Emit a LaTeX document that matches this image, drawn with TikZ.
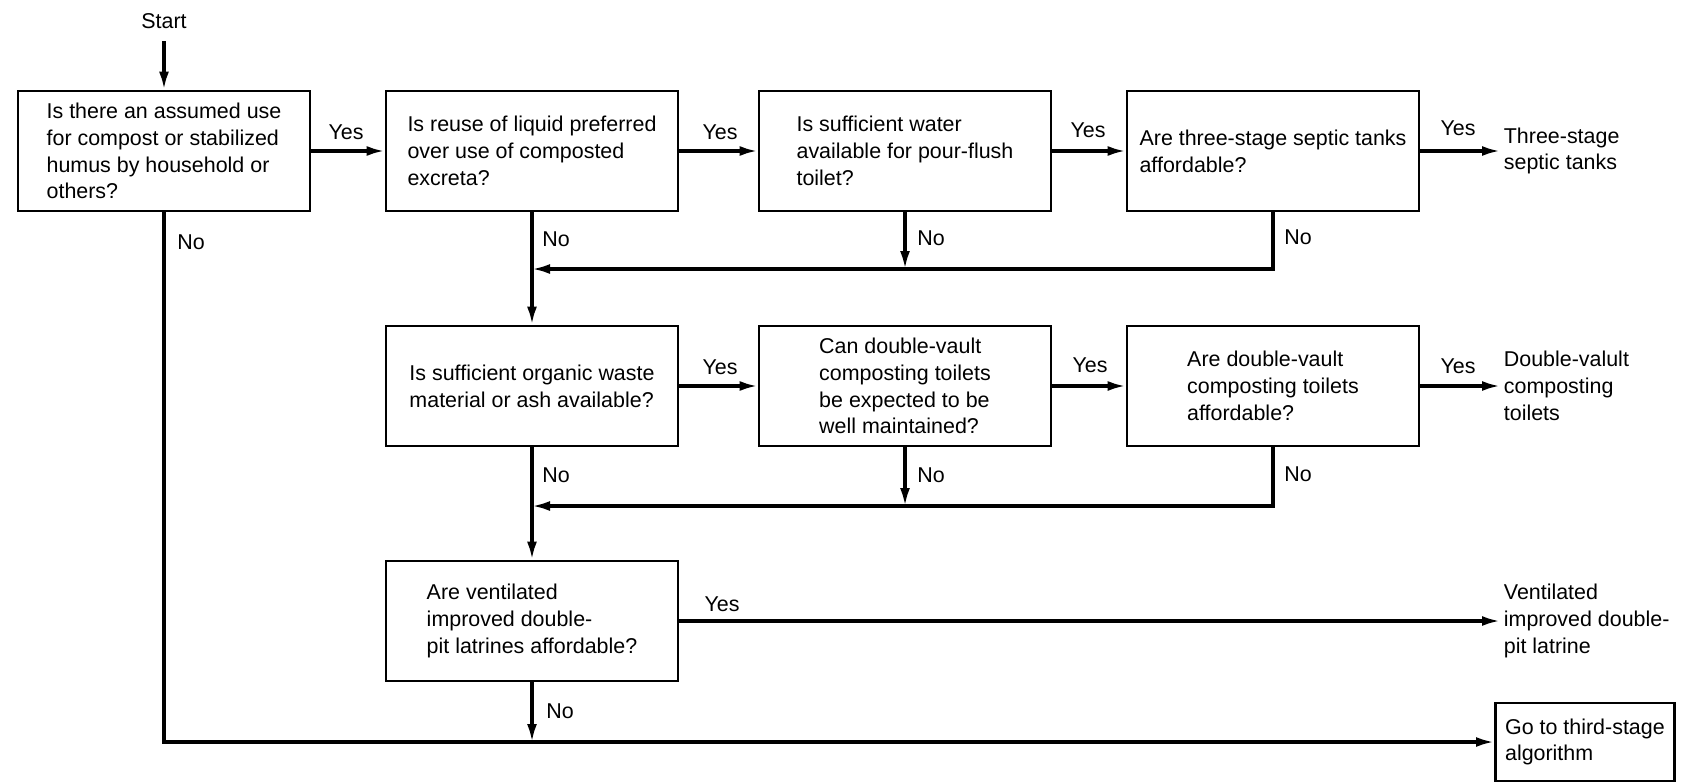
\documentclass[tikz,border=0pt]{standalone}
\usepackage{fontspec}
\setmainfont{Liberation Sans}
\usetikzlibrary{arrows.meta}
\newcommand{\boxfont}{\fontsize{12.2}{15.3}\selectfont}

\begin{document}
\begin{tikzpicture}[x=0.02cm,y=-0.02cm, % second-stage latrine choice
        qbox/.style={draw,line width=1.6pt,minimum width=5.84cm,minimum height=2.4cm,align=left,font=\boxfont},
        endbox/.style={draw,line width=1.6pt,minimum width=3.58cm,minimum height=1.56cm,align=left,font=\boxfont,anchor=west},
        result/.style={anchor=west,align=left,font=\boxfont,inner sep=2pt},
        tag/.style={font=\boxfont,inner sep=1pt},
        flow/.style={line width=1.8pt,-{Latex[length=3.6mm,width=2mm]}}]
        \useasboundingbox (0,0) rectangle (1682,781);
        \node[tag] (start) at (164,21) {Start};
        % first row
        \node[qbox] (q1) at (164,151) {Is there an assumed use\\for compost or stabilized\\humus by household or\\others?};
        \node[qbox] (q2) at (532,151) {Is reuse of liquid preferred\\over use of composted\\excreta?};
        \node[qbox] (q3) at (905,151) {Is sufficient water\\available for pour-flush\\toilet?};
        \node[qbox] (q4) at (1273,151) {Are three-stage septic tanks\\affordable?};
        \node[result] (r1) at (1500,151) {Three-stage\\septic tanks};
        % second row
        \node[qbox] (q5) at (532,386) {Is sufficient organic waste\\material or ash available?};
        \node[qbox] (q6) at (905,386) {Can double-vault\\composting toilets\\be expected to be\\well maintained?};
        \node[qbox] (q7) at (1273,386) {Are double-vault\\composting toilets\\affordable?};
        \node[result] (r2) at (1500,386) {Double-valult\\composting\\toilets};
        % third row
        \node[qbox] (q8) at (532,621) {Are ventilated\\improved double-\\pit latrines affordable?};
        \node[result] (r3) at (1500,621) {Ventilated\\improved double-\\pit latrine};
        \node[endbox] (q9) at (1494,742) {Go to third-stage\\algorithm};
        \coordinate (m1) at (532,269);
        \coordinate (m2) at (532,506);
        % yes / no
        \node[tag] at (346,132) {Yes};
        \node[tag] at (720,132) {Yes};
        \node[tag] at (1088,130) {Yes};
        \node[tag] at (1458,128) {Yes};
        \node[tag] at (720,367) {Yes};
        \node[tag] at (1090,365) {Yes};
        \node[tag] at (1458,366) {Yes};
        \node[tag] at (722,604) {Yes};
        \node[tag] at (191,242) {No};
        \node[tag] at (556,239) {No};
        \node[tag] at (931,238) {No};
        \node[tag] at (1298,237) {No};
        \node[tag] at (556,475) {No};
        \node[tag] at (931,475) {No};
        \node[tag] at (1298,474) {No};
        \node[tag] at (560,711) {No};
        % connectors
        \draw[flow,shorten <=6pt] (start) -- (q1);
        \draw[flow] (q1) -- (q2);
        \draw[flow] (q2) -- (q3);
        \draw[flow] (q3) -- (q4);
        \draw[flow] (q4) -- (r1);
        \draw[flow] (q5) -- (q6);
        \draw[flow] (q6) -- (q7);
        \draw[flow] (q7) -- (r2);
        \draw[flow] (q8) -- (r3);
        \draw[flow] (q2) -- (q5);
        \draw[flow] (q3) -- (q3 |- m1);
        \draw[flow] (q4.south) |- (m1);
        \draw[flow] (q5) -- (q8);
        \draw[flow] (q6) -- (q6 |- m2);
        \draw[flow] (q7.south) |- (m2);
        \draw[flow] (q8.south) -- (q8.south |- q9.west);
        \draw[flow] (q1.south) |- (q9.west);
\end{tikzpicture}
\end{document}
